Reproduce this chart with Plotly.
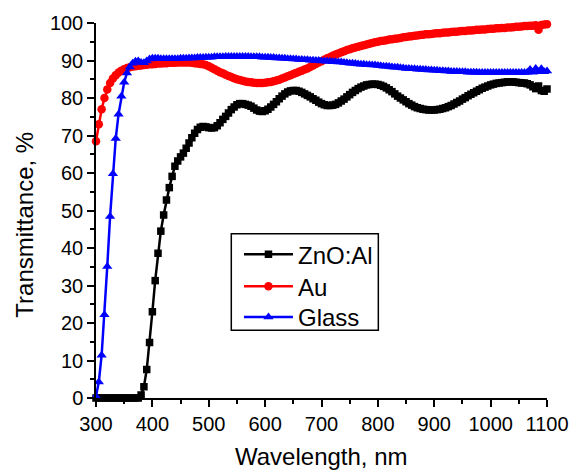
import plotly.graph_objects as go

# Wavelength grid (nm), 5 nm step
wavelength = list(range(300, 1101, 5))

# Transmittance (%) of the Al-doped ZnO film
zno_al = [
    0, 0, 0, 0, 0, 0, 0, 0, 0, 0,
    0, 0, 0, 0, 0, 0, 0.8, 3.0, 7.6, 14.8,
    23.0, 31.3, 38.6, 44.5, 48.8, 52.8, 56.1, 59.1, 61.8, 63.2,
    64.3, 65.3, 66.6, 68.0, 69.4, 70.6, 71.6, 72.2, 72.4, 72.3,
    72.1, 72.0, 72.1, 72.6, 73.4, 74.3, 75.1, 76.0, 76.9, 77.6,
    78.2, 78.5, 78.5, 78.3, 78.1, 77.8, 77.3, 76.8, 76.5, 76.4,
    76.6, 77.0, 77.6, 78.3, 79.0, 79.8, 80.5, 81.1, 81.6, 81.9,
    82.0, 82.0, 81.8, 81.5, 81.1, 80.7, 80.3, 79.8, 79.4, 78.9,
    78.5, 78.2, 78.0, 78.0, 78.1, 78.3, 78.7, 79.2, 79.7, 80.3,
    80.9, 81.5, 82.0, 82.5, 82.9, 83.2, 83.5, 83.6, 83.7, 83.7,
    83.6, 83.4, 83.1, 82.7, 82.2, 81.7, 81.1, 80.5, 80.0, 79.5,
    79.0, 78.5, 78.1, 77.7, 77.4, 77.2, 77.0, 76.9, 76.8, 76.8,
    76.8, 76.9, 77.0, 77.2, 77.4, 77.7, 78.0, 78.4, 78.8, 79.2,
    79.7, 80.1, 80.6, 81.0, 81.4, 81.8, 82.2, 82.6, 82.9, 83.2,
    83.5, 83.7, 83.9, 84.0, 84.1, 84.2, 84.3, 84.3, 84.3, 84.2,
    84.1, 84.0, 84.0, 83.8, 83.5, 83.0, 82.5, 83.2, 82.0, 81.8,
    82.4,
]

# Transmittance (%) of the Au layer
au = [
    68.5, 73.0, 77.0, 80.0, 82.3, 84.0, 85.2, 86.1, 86.8, 87.3,
    87.7, 88.0, 88.2, 88.4, 88.5, 88.6, 88.7, 88.8, 88.9, 89.0,
    89.0, 89.1, 89.2, 89.2, 89.3, 89.3, 89.4, 89.4, 89.4, 89.5,
    89.5, 89.5, 89.5, 89.5, 89.4, 89.3, 89.2, 89.1, 89.0, 88.8,
    88.5, 88.1, 87.7, 87.3, 86.9, 86.6, 86.2, 85.9, 85.6, 85.3,
    85.0, 84.8, 84.6, 84.4, 84.3, 84.2, 84.1, 84.0, 84.0, 84.0,
    84.1, 84.2, 84.3, 84.5, 84.7, 84.9, 85.2, 85.5, 85.8, 86.1,
    86.4, 86.7, 87.0, 87.3, 87.6, 87.9, 88.3, 88.7, 89.1, 89.5,
    89.8, 90.2, 90.6, 90.9, 91.3, 91.6, 91.9, 92.2, 92.5, 92.8,
    93.0, 93.3, 93.5, 93.7, 93.9, 94.1, 94.3, 94.5, 94.7, 94.9,
    95.0, 95.2, 95.3, 95.4, 95.6, 95.7, 95.8, 95.9, 96.0, 96.2,
    96.3, 96.4, 96.5, 96.6, 96.7, 96.8, 96.9, 97.0, 97.0, 97.1,
    97.2, 97.3, 97.3, 97.4, 97.5, 97.5, 97.6, 97.7, 97.7, 97.8,
    97.9, 97.9, 98.0, 98.0, 98.1, 98.2, 98.2, 98.3, 98.3, 98.4,
    98.5, 98.5, 98.6, 98.6, 98.7, 98.7, 98.8, 98.8, 98.9, 99.0,
    99.0, 99.1, 99.2, 99.2, 99.3, 99.3, 99.4, 98.2, 99.5, 99.6,
    99.7,
]

# Transmittance (%) of the bare glass substrate
glass = [
    0.5, 4.3, 11.4, 22.2, 35.1, 48.4, 59.8, 69.2, 75.7, 80.5,
    84.2, 86.7, 88.3, 89.3, 89.8, 89.9, 89.5, 89.4, 89.9, 90.4,
    90.6, 90.6, 90.6, 90.5, 90.5, 90.5, 90.5, 90.5, 90.5, 90.5,
    90.6, 90.6, 90.6, 90.7, 90.7, 90.7, 90.8, 90.8, 90.8, 90.9,
    90.9, 90.9, 91.0, 91.0, 91.0, 91.0, 91.1, 91.1, 91.1, 91.1,
    91.1, 91.1, 91.1, 91.1, 91.1, 91.0, 91.0, 91.0, 91.0, 90.9,
    90.9, 90.9, 90.8, 90.8, 90.7, 90.7, 90.6, 90.6, 90.5, 90.5,
    90.4, 90.4, 90.3, 90.3, 90.2, 90.2, 90.1, 90.1, 90.0, 90.0,
    89.9, 89.9, 89.8, 89.8, 89.7, 89.7, 89.6, 89.6, 89.5, 89.4,
    89.3, 89.3, 89.2, 89.1, 89.0, 89.0, 88.9, 88.9, 88.8, 88.8,
    88.7, 88.6, 88.5, 88.5, 88.4, 88.3, 88.2, 88.2, 88.1, 88.0,
    87.9, 87.9, 87.8, 87.8, 87.7, 87.7, 87.6, 87.6, 87.5, 87.5,
    87.4, 87.4, 87.3, 87.3, 87.2, 87.2, 87.1, 87.1, 87.1, 87.0,
    87.0, 87.0, 86.9, 86.9, 86.9, 86.9, 86.8, 86.8, 86.8, 86.8,
    86.8, 86.8, 86.8, 86.8, 86.8, 86.8, 86.8, 86.8, 86.8, 86.8,
    86.8, 86.8, 86.8, 86.9, 87.6, 86.9, 87.9, 87.0, 87.8, 87.0,
    87.2,
]

FONT = "Liberation Sans, Arial, sans-serif"

fig = go.Figure()
fig.add_trace(go.Scatter(
    x=wavelength, y=zno_al, name="ZnO:Al", mode="lines+markers",
    line=dict(color="black", width=2.5),
    marker=dict(symbol="square", size=7.5, color="black"),
    cliponaxis=False, legend="legend",
))
fig.add_trace(go.Scatter(
    x=wavelength, y=au, name="Au", mode="lines+markers",
    line=dict(color="red", width=2.5),
    marker=dict(symbol="circle", size=8.5, color="red"),
    cliponaxis=False, legend="legend2",
))
fig.add_trace(go.Scatter(
    x=wavelength, y=glass, name="Glass", mode="lines+markers",
    line=dict(color="blue", width=2.5),
    marker=dict(symbol="triangle-up", size=9, color="blue"),
    cliponaxis=False, legend="legend3",
))

axis_common = dict(
    showgrid=False, zeroline=False, showline=True, linecolor="black",
    linewidth=1.5, ticks="outside", ticklen=7, tickwidth=1.5,
    tickcolor="black", mirror=False,
    tickfont=dict(family=FONT, size=20, color="black"),
)

fig.update_xaxes(
    range=[300, 1100], tick0=300, dtick=100,
    minor=dict(ticks="outside", dtick=50, ticklen=4, tickwidth=1.5,
               tickcolor="black"),
    **axis_common,
)
fig.update_yaxes(
    range=[0, 100], tick0=0, dtick=10,
    minor=dict(ticks="outside", dtick=5, ticklen=4, tickwidth=1.5,
               tickcolor="black"),
    **axis_common,
)

fig.add_annotation(
    text="Wavelength, nm", xref="paper", yref="paper", x=0.5, y=-0.155,
    xanchor="center", yanchor="middle", showarrow=False,
    font=dict(family=FONT, size=24, color="black"),
)
fig.add_annotation(
    text="Transmittance, %", xref="paper", yref="paper", x=-0.159, y=0.463,
    xanchor="center", yanchor="middle", showarrow=False, textangle=-90,
    font=dict(family=FONT, size=24, color="black"),
)

# Frame around the legend entries
fig.add_shape(
    type="rect", xref="paper", yref="paper",
    x0=0.3, x1=0.626, y0=0.1804, y1=0.4377,
    line=dict(color="black", width=1.5), fillcolor="white", layer="below",
)

legend_common = dict(
    x=0.317, xanchor="left", yanchor="middle",
    borderwidth=0, bgcolor="rgba(0,0,0,0)",
    font=dict(family=FONT, size=24, color="black"),
    itemwidth=49,
)

fig.update_layout(
    width=581, height=472,
    margin=dict(l=96, r=25, t=21, b=74),
    paper_bgcolor="white", plot_bgcolor="white",
    showlegend=True,
    legend=dict(y=0.382, **legend_common),
    legend2=dict(y=0.2971, **legend_common),
    legend3=dict(y=0.2149, **legend_common),
)

fig.write_html("out.html")
